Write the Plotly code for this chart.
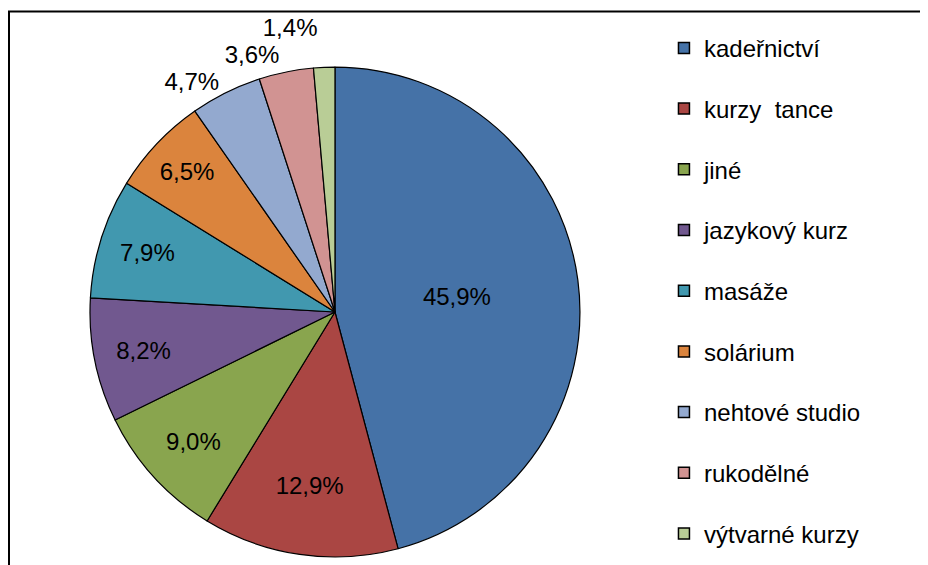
import plotly.graph_objects as go

categories = ["kadeřnictví", "kurzy  tance", "jiné", "jazykový kurz", "masáže",
              "solárium", "nehtové studio", "rukodělné", "výtvarné kurzy"]
shares = [45.9, 12.9, 9.0, 8.2, 7.9, 6.5, 4.7, 3.6, 1.4]
colors = ["#4572A7", "#AA4643", "#89A54E", "#71588F", "#4198AF",
          "#DB843D", "#93A9CF", "#D19392", "#B9CD96"]

# page body adds 8px margin, so the figure is 8px smaller than the window
W, H = 920, 557

# outside labels: transparent base colour hides the leader lines,
# the span paints the digits black again
label_in = "%{value:.1f}%"
label_out = "<span style='color:black;fill-opacity:1'>%{value:.1f}%</span>"

fig = go.Figure()
fig.add_trace(go.Pie(
    labels=categories,
    values=shares,
    sort=False,
    direction="clockwise",
    rotation=0,
    marker=dict(colors=colors, line=dict(color="black", width=1.2)),
    texttemplate=[label_in] * 6 + [label_out] * 3,
    textposition=["inside"] * 6 + ["outside"] * 3,
    insidetextorientation="horizontal",
    textfont=dict(size=24, color="black"),
    insidetextfont=dict(size=24, color="black"),
    outsidetextfont=dict(size=24, color="rgba(0,0,0,0)"),
    showlegend=False,
    domain=dict(x=[0.0891, 0.6217], y=[0.0144, 0.894]),
))

# legend entries as separate groups so the gap can match the reference
for name, col in zip(categories, colors):
    fig.add_trace(go.Scatter(
        x=[None], y=[None], mode="markers", name=name, legendgroup=name,
        marker=dict(symbol="square", size=11, color=col,
                    line=dict(color="black", width=1.5)),
    ))

fig.update_layout(
    width=W, height=H,
    margin=dict(l=0, r=0, t=0, b=0),
    paper_bgcolor="white", plot_bgcolor="white",
    separators=", ",
    font=dict(family="Liberation Sans, Arial, sans-serif", size=24, color="black"),
    xaxis=dict(visible=False), yaxis=dict(visible=False),
    legend=dict(x=0.713, y=0.968, xanchor="left", yanchor="top",
                traceorder="grouped", tracegroupgap=26.5,
                font=dict(size=24), itemwidth=30, bgcolor="rgba(0,0,0,0)"),
    shapes=[dict(type="rect", xref="paper", yref="paper",
                 x0=1 / W, x1=1.02, y0=-0.02, y1=1 - 3.5 / H,
                 line=dict(color="black", width=2))],
)

fig.write_html("out.html")
